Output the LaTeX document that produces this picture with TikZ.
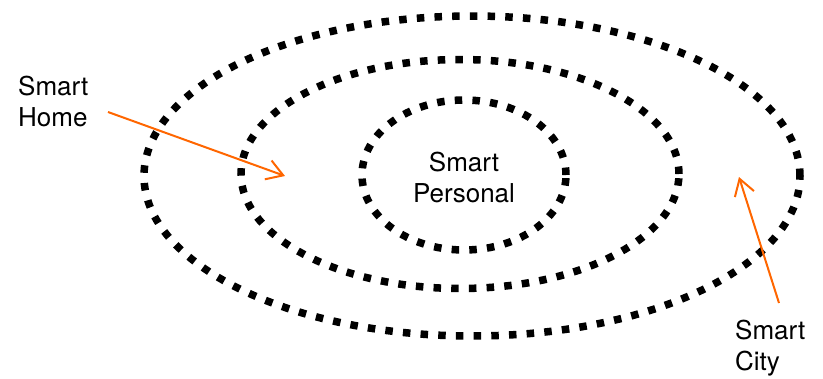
\documentclass[tikz,border=0pt]{standalone}
\usepackage{fontspec}
\setmainfont{TeX Gyre Heros}
\usetikzlibrary{arrows.meta,shapes.geometric}
\definecolor{pointerorange}{RGB}{255,102,0}

\begin{document}
\begin{tikzpicture}[x=1pt,y=-1pt,ring/.style={ellipse,draw,line width=7.5pt,dash pattern=on 7.5pt off 10.2pt,inner sep=0pt,outer sep=0pt},tag/.style={font=\fontsize{26}{31}\selectfont,inner sep=0pt,align=left},pointer/.style={draw=pointerorange,line width=2pt,-{Straight Barb[length=16pt,width=20pt]}}]
\useasboundingbox (0,0) rectangle (823,378);
\coordinate (P) at (464,175);
\coordinate (H) at (460,174);
\coordinate (C) at (472,176);
\coordinate (homefrom) at (108,112);
\coordinate (hometo) at (285,176);
\coordinate (cityfrom) at (779,303);
\coordinate (cityto) at (739,177);
\node[ring,minimum width=204pt,minimum height=150pt] (personal) at (P) {};
\node[ring,minimum width=438pt,minimum height=229pt] (home) at (H) {};
\node[ring,minimum width=656pt,minimum height=320pt] (city) at (C) {};
% base anchor sits on the last line
\node[tag,align=center,anchor=base] (personaltag) at (464,202) {Smart\\Personal};
\node[tag,anchor=base west] (hometag) at (18,126) {Smart\\Home};
\node[tag,anchor=base west] (citytag) at (735,370) {Smart\\City};
\draw[pointer] (homefrom) -- (hometo);
\draw[pointer] (cityfrom) -- (cityto);
\end{tikzpicture}
\end{document}
